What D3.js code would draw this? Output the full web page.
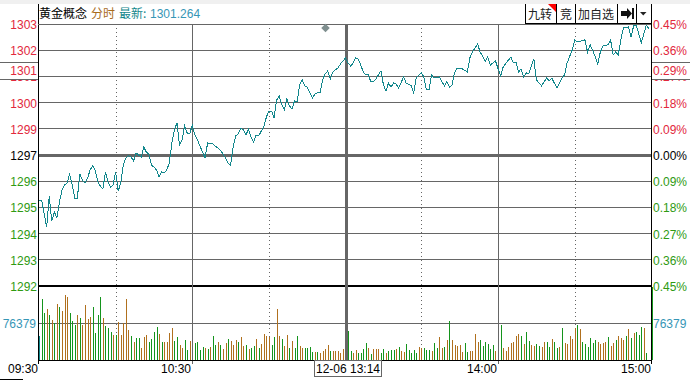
<!DOCTYPE html>
<html>
<head>
<meta charset="utf-8">
<style>
    body { margin: 0; background: #fff; }
    svg { display: block; font-family: "Liberation Sans", Arial, sans-serif; font-size: 12px; }
    .cjk { font-family: "Noto Sans CJK SC", sans-serif; }
</style>
<script src="https://cdn.jsdelivr.net/npm/d3@7"></script>
</head>
<body>
<svg width="690" height="380"></svg>
<script>
const basePrice = 1297.4;
const pctTicks = [0.45, 0.36, 0.27, 0.18, 0.09, 0, -0.09, -0.18, -0.27, -0.36, -0.45];
const priceLabels = ["1303", "1302", "1301", "1300", "1299", "1297", "1296", "1295", "1294", "1293", "1292"];
const pctLabels = ["0.45%", "0.36%", "0.27%", "0.18%", "0.09%", "0.00%", "0.09%", "0.18%", "0.27%", "0.36%", "0.45%"];
const timeTicks = [0, 60, 180, 240];
const timeLabels = ["09:30", "10:30", "14:00", "15:00"];
const dottedMinutes = [30, 90, 150, 210];
const solidMinutes = [60, 180];
const crossMinute = 120;
const volLabel = "76379";
const volMid = 76.379;

const lineMinutes = [
    0, 1, 2, 3, 4, 5, 6, 7, 8, 9, 10, 11, 12, 13, 14, 15, 16, 17, 18, 19,
    20, 21, 22, 23, 24, 25, 26, 27, 28, 29, 30, 31, 32, 33, 34, 35, 36, 37, 38, 39,
    40, 41, 42, 43, 44, 45, 46, 47, 48, 49, 50, 51, 52, 53, 54, 55, 56, 57, 58, 59,
    60, 61, 62, 63, 64, 65, 66, 68, 70, 71, 72, 73, 74, 75, 76, 77, 78, 79, 80, 81,
    82, 83, 84, 85, 86, 87, 88, 89, 90, 91, 92, 93, 94, 95, 96, 97, 98, 99, 100, 101, 102, 103,
    104, 105, 106, 107, 108, 109, 110, 111, 112, 113, 114, 115, 116, 117, 118, 120, 121, 122, 123, 124,
    125, 126, 127, 128, 129, 130, 131, 132, 134, 135, 136, 137, 138, 139, 140, 141, 143, 144, 146, 147,
    148, 150, 151, 152, 153, 154, 155, 157, 159, 160, 161, 162, 163, 164, 165, 166, 168, 169, 170, 172,
    173, 175, 176, 177, 179, 181, 182, 185, 186, 187, 188, 189, 190, 191, 192, 194, 195, 197, 199, 200,
    201, 203, 205, 206, 207, 209, 210, 211, 214, 215, 216, 217, 219, 220, 221, 223, 224, 225, 226, 227,
    228, 229, 231, 232, 233, 234, 236, 238, 239
];
const linePrices = [
    1295.39, 1295.39, 1294.81, 1294.19, 1295.57, 1294.46, 1294.86, 1294.59, 1295.30, 1295.84, 1296.06, 1296.15, 1296.55, 1296.06, 1295.48, 1295.48, 1296.55, 1296.28, 1296.15, 1296.37,
    1296.73, 1296.91, 1296.73, 1296.20, 1296.02, 1295.88, 1296.64, 1296.20, 1295.97, 1296.06, 1296.64, 1295.79, 1296.15, 1296.95, 1297.27, 1297.36, 1297.31, 1297.13, 1297.49, 1297.40,
    1297.31, 1297.76, 1297.53, 1297.44, 1296.95, 1296.86, 1296.73, 1296.42, 1296.64, 1296.60, 1296.73, 1297.04, 1297.94, 1298.52, 1298.83, 1297.85, 1298.07, 1298.69, 1298.38, 1298.34,
    1298.74, 1298.29, 1298.07, 1297.80, 1297.53, 1297.27, 1297.94, 1297.89, 1297.71, 1297.62, 1297.44, 1297.27, 1297.04, 1296.95, 1297.76, 1298.25, 1298.34, 1298.60, 1298.52, 1298.29,
    1298.56, 1298.20, 1297.98, 1298.29, 1298.25, 1298.47, 1298.65, 1299.09, 1299.36, 1299.36, 1299.05, 1299.85, 1300.03, 1299.67, 1299.41, 1299.90, 1299.59, 1299.45, 1299.81, 1299.76, 1300.52, 1300.75,
    1300.48, 1300.43, 1300.17, 1299.94, 1300.12, 1300.17, 1300.17, 1300.75, 1301.01, 1301.15, 1300.79, 1301.10, 1301.20, 1301.28, 1301.46, 1301.73, 1301.50, 1301.37, 1301.50, 1301.73,
    1301.68, 1301.41, 1301.10, 1300.97, 1300.97, 1300.66, 1300.66, 1300.79, 1301.15, 1300.52, 1300.25, 1300.61, 1300.43, 1300.61, 1300.57, 1300.39, 1300.88, 1300.61, 1300.48, 1300.17,
    1300.83, 1301.06, 1300.88, 1300.30, 1300.30, 1300.97, 1300.83, 1300.88, 1300.48, 1300.66, 1300.43, 1300.52, 1301.06, 1301.28, 1301.24, 1301.24, 1301.10, 1301.73, 1301.99, 1302.35,
    1301.99, 1301.59, 1301.77, 1301.41, 1301.59, 1300.92, 1301.32, 1301.77, 1301.50, 1301.55, 1301.10, 1301.24, 1300.88, 1301.06, 1301.01, 1301.68, 1300.75, 1300.48, 1300.83, 1300.70,
    1300.83, 1300.39, 1300.83, 1300.97, 1301.50, 1302.08, 1302.53, 1302.44, 1302.53, 1301.99, 1302.31, 1302.08, 1301.46, 1301.99, 1302.26, 1302.31, 1302.53, 1301.86, 1301.99, 1301.86,
    1302.53, 1303.06, 1303.11, 1302.66, 1303.15, 1303.20, 1302.40, 1303.20, 1303.02
];

// volume per minute, in thousands
const volumes = [
    49.5, 125.9, 97.7, 105.3, 92.9, 82.6, 75.7, 115.6, 108.7, 101.1, 134.2, 130.7, 97.7, 80.5, 72.2, 92.9, 87.4, 72.2, 113.5, 84.6,
    89.4, 110.1, 56.4, 92.9, 130.7, 87.4, 70.9, 65.4, 58.5, 51.6, 51.6, 77.7, 51.6, 75.7, 125.9, 61.9, 49.5, 37.8, 46.1, 46.1,
    24.8, 48.2, 51.6, 37.8, 42.7, 58.5, 68.8, 53.7, 37.8, 37.8, 37.8, 56.4, 65.4, 39.2, 48.2, 31.0, 25.5, 41.3, 20.6, 39.2,
    29.6, 34.4, 37.8, 20.6, 27.5, 25.5, 22.0, 27.5, 49.5, 31.0, 37.8, 31.0, 22.0, 34.4, 44.0, 39.2, 31.0, 41.3, 37.8, 48.2,
    29.6, 31.0, 22.7, 25.5, 28.9, 43.3, 25.5, 33.0, 53.7, 49.5, 48.2, 31.0, 48.2, 105.3, 49.5, 43.3, 29.6, 51.6, 25.5, 39.2,
    25.5, 49.5, 29.6, 24.1, 24.8, 24.8, 26.1, 17.2, 17.2, 17.2, 15.1, 18.6, 22.7, 31.0, 19.3, 18.6, 18.6, 18.6, 15.1, 22.7,
    20.0, 59.9, 18.6, 15.1, 20.6, 15.1, 15.1, 22.7, 35.8, 25.5, 12.4, 22.7, 22.0, 22.0, 15.1, 22.7, 15.1, 19.3, 20.6, 20.6,
    22.7, 27.5, 19.3, 17.2, 33.0, 20.6, 15.1, 20.6, 15.1, 26.1, 24.1, 25.5, 20.6, 20.6, 18.6, 35.8, 25.5, 48.2, 24.1, 27.5,
    41.3, 80.5, 41.3, 31.0, 28.9, 31.0, 16.5, 35.8, 16.5, 18.6, 19.3, 53.7, 37.8, 41.3, 28.9, 37.2, 33.0, 22.7, 31.0, 18.6,
    25.0, 72.2, 24.8, 18.6, 27.5, 35.8, 37.8, 50.2, 53.7, 49.5, 33.0, 58.5, 39.2, 31.0, 28.9, 33.0, 28.9, 27.5, 37.2, 37.8,
    27.5, 43.3, 36.5, 24.8, 26.1, 66.7, 35.8, 33.0, 49.5, 43.3, 66.7, 72.2, 64.0, 37.2, 33.0, 27.5, 46.1, 34.4, 41.3, 37.2,
    32.3, 35.8, 37.2, 48.2, 29.6, 35.8, 41.3, 49.5, 44.7, 41.3, 49.5, 64.0, 44.7, 55.0, 57.1, 51.6, 68.8, 66.7, 15.1, 0,
    151.4
];
// t = first trade, g = falling minute, o = rising minute
const volDirs = [
    "tggogogogooogggogooo",
    "oggggogggogooooogogg",
    "ooogggg" + "ogoooogg" + "ooggo",
    "gggggogoggogoogooogo",
    "ogoggogooooggoogoogo",
    "ggooggggogoooogooooo",
    "gggoo" + "ggggogoooggoggg",
    "ogoogggggoogggoggoog",
    "ogooooo" + "ggoooogggggg" + "o",
    "ggooooooogogg" + "oogg" + "oo",
    "ggoggog" + "ooooogogggggg",
    "oooogoogooogogogggog",
    "g"
].join("");

const colors = {
    up: "#e2283c",
    down: "#2f9a12",
    flat: "#000",
    grid: "#666",
    line: "#12878c",
    volUp: "#b0701e",
    volDown: "#14941c",
    volFirst: "#12878c",
    blue: "#3696b6"
};

const area = { top: 24, priceBottom: 286, volBottom: 360, left: 38, right: 651 };

function drawGrid(svg, scX, scY, scVol) {
    const g = svg.append("g").attr("shape-rendering", "crispEdges").attr("stroke", colors.grid);

    g.selectAll("line.h")
        .data(pctTicks)
        .enter()
        .append("line")
        .attr("class", "h")
        .attr("x1", area.left)
        .attr("x2", area.right)
        .attr("y1", d => scY(basePrice * (1 + d / 100)))
        .attr("y2", d => scY(basePrice * (1 + d / 100)))
        .attr("stroke", d => d === -0.45 ? "#000" : colors.grid)
        .attr("stroke-width", d => d === 0 ? 3 : d === -0.45 ? 2 : 1);

    g.append("line")
        .attr("x1", area.left)
        .attr("x2", area.right)
        .attr("y1", scVol(volMid))
        .attr("y2", scVol(volMid));

    g.selectAll("line.dot")
        .data(dottedMinutes)
        .enter()
        .append("line")
        .attr("class", "dot")
        .attr("x1", d => snap(scX(d)))
        .attr("x2", d => snap(scX(d)))
        .attr("y1", area.top)
        .attr("y2", area.volBottom)
        .attr("stroke-dasharray", "1 3");
}

function snap(v) {
    return Math.round(v) + 0.5;
}

function drawVolumes(svg, scX, scVol) {
    const dirs = volDirs.split("");

    svg.append("g")
        .attr("shape-rendering", "crispEdges")
        .selectAll("rect")
        .data(volumes)
        .enter()
        .append("rect")
        .attr("x", (d, i) => Math.round(scX(i)))
        .attr("y", d => scVol(d))
        .attr("width", 1)
        .attr("height", d => scVol(0) - scVol(d))
        .attr("fill", (d, i) => dirs[i] === "t" ? colors.volFirst : dirs[i] === "o" ? colors.volUp : colors.volDown);
}

function drawVerticals(svg, scX) {
    const g = svg.append("g").attr("shape-rendering", "crispEdges").attr("stroke", colors.grid);

    g.selectAll("line.solid")
        .data(solidMinutes)
        .enter()
        .append("line")
        .attr("class", "solid")
        .attr("x1", d => snap(scX(d)))
        .attr("x2", d => snap(scX(d)))
        .attr("y1", area.top)
        .attr("y2", area.volBottom + 4);

    g.append("line")
        .attr("x1", snap(scX(crossMinute)))
        .attr("x2", snap(scX(crossMinute)))
        .attr("y1", area.top)
        .attr("y2", area.volBottom)
        .attr("stroke-width", 3);
}

function drawPriceLine(svg, scX, scY) {
    const line = d3.line()
        .x(d => scX(d[0]))
        .y(d => scY(d[1]));

    svg.append("path")
        .datum(d3.zip(lineMinutes, linePrices))
        .attr("fill", "none")
        .attr("stroke", colors.line)
        .attr("stroke-width", 1)
        .attr("shape-rendering", "crispEdges")
        .attr("d", line);
}

function drawFrame(svg, scX, scVol) {
    const g = svg.append("g").attr("shape-rendering", "crispEdges");

    g.append("rect").attr("width", 690).attr("height", 4).attr("fill", "#f0f0f0");
    g.append("rect").attr("x", 0).attr("y", 379).attr("width", 23).attr("height", 1).attr("fill", "#000");

    g.append("line").attr("x1", area.left + 0.5).attr("x2", area.left + 0.5).attr("y1", 4).attr("y2", area.volBottom + 4).attr("stroke", "#000");
    g.append("line").attr("x1", area.right + 0.5).attr("x2", area.right + 0.5).attr("y1", 4).attr("y2", area.volBottom + 4).attr("stroke", "#000");
    g.append("line").attr("x1", area.left).attr("x2", area.right).attr("y1", scVol(0)).attr("y2", scVol(0)).attr("stroke", "#000");
    g.append("line").attr("x1", area.left).attr("x2", area.right).attr("y1", area.top).attr("y2", area.top).attr("stroke", colors.grid);
}

function drawAxes(svg, scX, scY, scVol) {
    const tickColor = d => d > 0 ? colors.up : d < 0 ? colors.down : colors.flat;

    svg.append("g")
        .attr("text-anchor", "end")
        .selectAll("text")
        .data(pctTicks)
        .enter()
        .append("text")
        .attr("x", 37)
        .attr("y", d => scY(basePrice * (1 + d / 100)) + 5)
        .attr("fill", tickColor)
        .text((d, i) => priceLabels[i]);

    svg.append("g")
        .selectAll("text")
        .data(pctTicks)
        .enter()
        .append("text")
        .attr("x", 653)
        .attr("y", d => scY(basePrice * (1 + d / 100)) + 5)
        .attr("fill", tickColor)
        .text((d, i) => pctLabels[i]);

    svg.append("text").attr("x", 36).attr("y", scVol(volMid) + 5).attr("text-anchor", "end").attr("fill", colors.blue).text(volLabel);
    svg.append("text").attr("x", 653).attr("y", scVol(volMid) + 5).attr("fill", colors.blue).text(volLabel);

    svg.append("g")
        .attr("text-anchor", "end")
        .selectAll("text")
        .data(timeTicks)
        .enter()
        .append("text")
        .attr("x", d => Math.round(scX(d)) - 1)
        .attr("y", 373)
        .attr("fill", "#000")
        .text((d, i) => timeLabels[i]);
}

function drawCursorBoxes(svg, scX, scY) {
    const y0 = 62;
    const y1 = 79;
    const cursorY = 75;

    [[0, 38, "1301", 37, "end"], [652, 38, "0.29%", 653, "start"]].forEach(b => {
        svg.append("rect").attr("x", b[0]).attr("y", y0).attr("width", b[1]).attr("height", y1 - y0).attr("fill", "#fff");
        svg.append("line").attr("x1", b[0]).attr("x2", b[0] + b[1]).attr("y1", y0 + 0.5).attr("y2", y0 + 0.5).attr("stroke", colors.grid);
        svg.append("line").attr("x1", b[0]).attr("x2", b[0] + b[1]).attr("y1", y1 + 0.5).attr("y2", y1 + 0.5).attr("stroke", colors.grid);
        svg.append("text").attr("x", b[3]).attr("y", cursorY).attr("text-anchor", b[4]).attr("fill", colors.up).text(b[2]);
    });

    const cx = snap(scX(crossMinute));
    svg.append("rect")
        .attr("x", cx - 31.5 - 0.5)
        .attr("y", 360.5)
        .attr("width", 67)
        .attr("height", 16)
        .attr("fill", "#fff")
        .attr("stroke", colors.grid)
        .attr("shape-rendering", "crispEdges");
    svg.append("text").attr("x", cx + 1.5).attr("y", 373).attr("text-anchor", "middle").attr("fill", "#000").text("12-06 13:14");

    svg.append("path")
        .attr("d", d3.symbol().type(d3.symbolSquare).size(36))
        .attr("transform", "translate(325.5,28) rotate(45)")
        .attr("fill", "#7f8f8f");
}

function drawHeader(svg) {
    const head = svg.append("g");
    [[39, "黄金概念", "#000", "cjk"], [91, "分时", "#a86c1c", "cjk"], [119, "最新:", "#12878c", "cjk"], [150, "1301.264", colors.blue, ""]].forEach(t => {
        head.append("text").attr("x", t[0]).attr("y", 18).attr("fill", t[2]).attr("class", t[3]).text(t[1]);
    });

    const btn = svg.append("g").attr("shape-rendering", "crispEdges");
    btn.append("rect").attr("x", 525).attr("y", 4).attr("width", 126).attr("height", 20).attr("fill", "#fff");
    [525, 556, 575, 617, 636].forEach(x => {
        btn.append("line").attr("x1", x + 0.5).attr("x2", x + 0.5).attr("y1", 4).attr("y2", 24).attr("stroke", "#000");
    });
    btn.append("line").attr("x1", 525).attr("x2", 651).attr("y1", 23.5).attr("y2", 23.5).attr("stroke", "#000");

    [[528, "九转"], [560, "竞"], [578, "加自选"]].forEach(t => {
        svg.append("text").attr("x", t[0]).attr("y", 19).attr("class", "cjk").attr("fill", "#222").text(t[1]);
    });

    svg.append("path").attr("d", "M548,4H556V12Z").attr("fill", "#f00");
    svg.append("path").attr("d", "M621,11H627V8L632,13.5L627,19V16H621Z").attr("fill", "#111");
    svg.append("rect").attr("x", 632).attr("y", 8).attr("width", 2).attr("height", 11).attr("fill", "#111");
    svg.append("path").attr("d", "M640,12H646.5L643.25,15.5Z").attr("fill", "#222");
}

function drawChart() {
    const svg = d3.select("svg");

    const scX = d3.scaleLinear()
        .domain([0, 120, 150, 240])
        .range([39, 345.6, 421.3, 651.5]);

    const scY = d3.scaleLinear()
        .domain([basePrice * 0.9955, basePrice * 1.0045])
        .range([area.priceBottom, area.top]);

    const scVol = d3.scaleLinear()
        .domain([0, volMid * 2])
        .range([area.volBottom, area.priceBottom]);

    svg.append("rect").attr("width", 690).attr("height", 380).attr("fill", "#fff");
    drawGrid(svg, scX, scY, scVol);
    drawVolumes(svg, scX, scVol);
    drawVerticals(svg, scX);
    drawPriceLine(svg, scX, scY);
    drawFrame(svg, scX, scVol);
    drawAxes(svg, scX, scY, scVol);
    drawCursorBoxes(svg, scX, scY);
    drawHeader(svg);
}

drawChart();
</script>
</body>
</html>
